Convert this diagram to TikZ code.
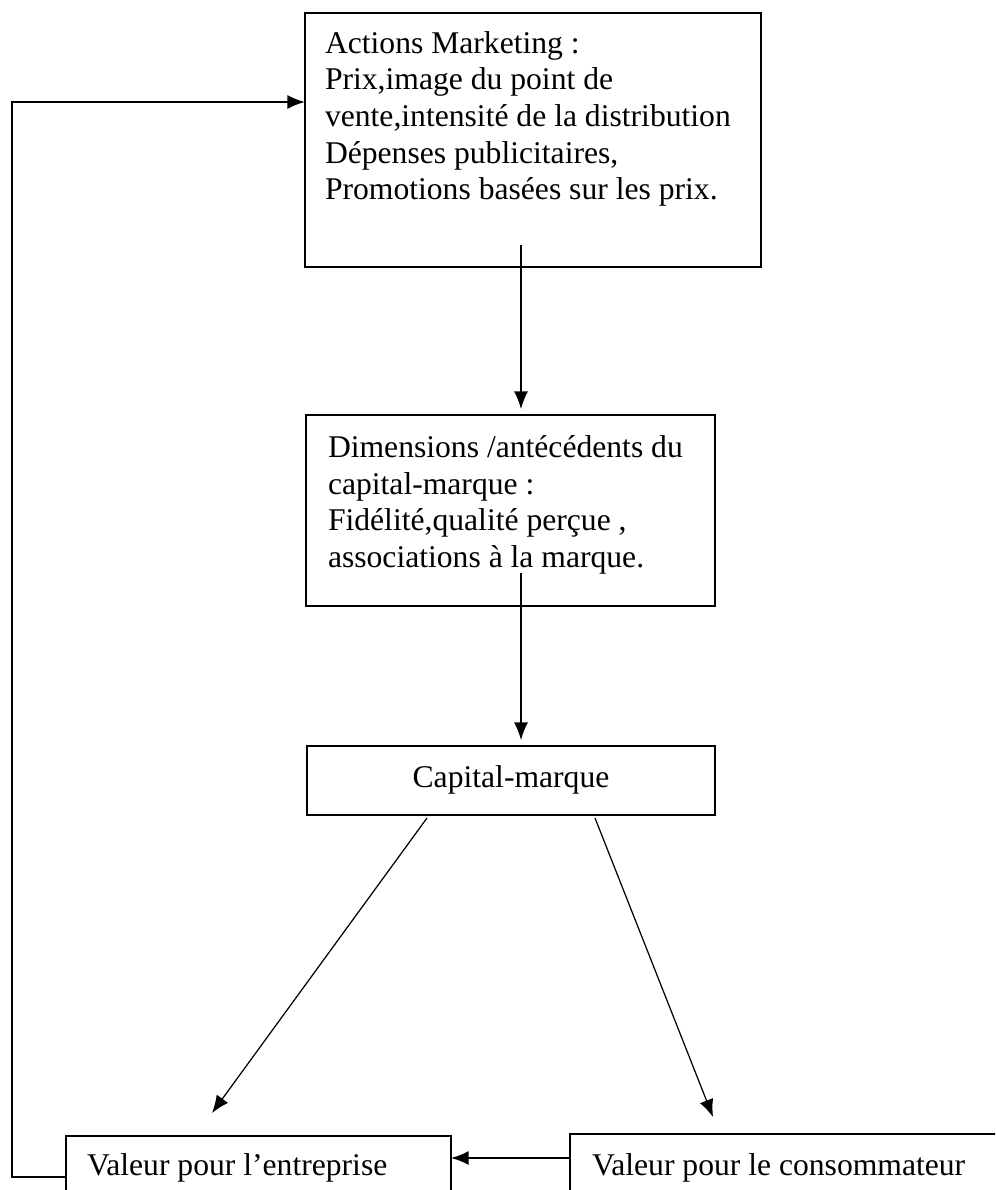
\documentclass[tikz,border=0pt]{standalone}
\usepackage{fontspec}
\setmainfont{Liberation Serif}
\usetikzlibrary{arrows.meta,calc}
\begin{document}
\begin{tikzpicture}[x=0.02cm,y=-0.02cm,
  box/.style={draw, line width=1.1pt, rectangle, inner sep=0pt, outer sep=0pt},
  lbl/.style={inner sep=0pt, outer sep=0pt, font=\fontsize{18}{20.8}\selectfont, align=left},
  flow/.style={line width=0.8pt, -{Latex[length=10pt,width=8pt]}},
  thinflow/.style={line width=0.7pt, -{Latex[length=10pt,width=8pt]}},
  loop/.style={line width=1.1pt, -{Latex[length=10pt,width=8pt]}}]
\useasboundingbox (0,0) rectangle (995,1190);
\clip (0,0) rectangle (995,1190);

% boxes
\node[box, minimum width={456*0.02cm}, minimum height={254*0.02cm}] (act) at (533,140) {};
\node[box, minimum width={409*0.02cm}, minimum height={191*0.02cm}] (dim) at (510.5,510.5) {};
\node[box, minimum width={408*0.02cm}, minimum height={69*0.02cm}] (cap) at (511,780.5) {};
\node[box, minimum width={385*0.02cm}, minimum height={82*0.02cm}] (ent) at (258.5,1177) {};
\node[box, minimum width={440*0.02cm}, minimum height={84*0.02cm}] (con) at (790,1176) {};

% texts
\node[lbl, anchor=north west] (acttext) at (325,31.5) {Actions Marketing :\\
Prix,image du point de\\
vente,intensité de la distribution\\
Dépenses publicitaires,\\
Promotions basées sur les prix.};
\node[lbl, anchor=north west] (dimtext) at (328,435.5) {Dimensions /antécédents du\\
capital-marque :\\
Fidélité,qualité perçue ,\\
associations à la marque.};
\node[lbl, anchor=base] (captext) at (511,787) {Capital-marque};
\node[lbl, anchor=base west] (enttext) at (87,1175) {Valeur pour l’entreprise};
\node[lbl, anchor=base west] (context) at (592,1175) {Valeur pour le consommateur};

% connectors
\coordinate (axis) at (521,0);
\draw[flow] ($(act.south -| axis)+(0,-22)$) -- ($(dim.north -| axis)+(0,-6)$);
\draw[flow] ($(dim.south -| axis)+(0,-33)$) -- ($(cap.north -| axis)+(0,-6)$);
\draw[thinflow] ($(cap.south west)+(120,3)$) -- ($(ent.north west)+(146,-23)$);
\draw[thinflow] ($(cap.south west)+(288,3)$) -- ($(con.north west)+(143,-17)$);
\coordinate (mid) at (0,1158);
\draw[loop] (con.west |- mid) -- (ent.east |- mid);
\coordinate (fbtop) at (12,102);
\draw[loop] (ent.west) -| (fbtop) -- (act.west |- fbtop);
\end{tikzpicture}
\end{document}
